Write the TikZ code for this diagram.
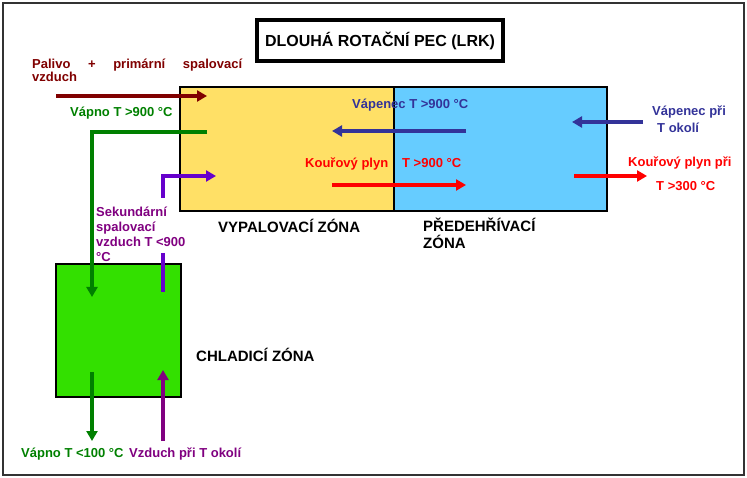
\documentclass[tikz,border=0pt]{standalone}
\usepackage{fontspec}
\setmainfont{Liberation Sans}
\usetikzlibrary{arrows.meta}
\definecolor{kyellow}{HTML}{FFE066}
\definecolor{kblue}{HTML}{66CCFF}
\definecolor{kgreen}{HTML}{33E000}
\definecolor{dred}{HTML}{800000}
\definecolor{dgreen}{HTML}{008000}
\definecolor{violet1}{HTML}{6600CC}
\definecolor{purp}{HTML}{800080}
\definecolor{nblue}{HTML}{333399}
\definecolor{bred}{HTML}{FF0000}
\begin{document}
\begin{tikzpicture}[x=1pt,y=-1pt,
  flow/.style={line width=3.2pt,-{Triangle[length=10pt,width=11pt]}},
  plainflow/.style={line width=3.2pt},
  zone/.style={draw=black,line width=1.5pt},
  lbl/.style={inner sep=0pt,anchor=base west,font=\fontsize{13}{15}\selectfont\bfseries},
  zlbl/.style={inner sep=0pt,anchor=base west,font=\fontsize{15}{17}\selectfont\bfseries}]
\useasboundingbox (0,0) rectangle (747,478);
% frame
\draw[line width=2pt,black!80] (3,3) rectangle (744,475);
% title
\node[draw=black,line width=4pt,minimum width=246pt,minimum height=41pt,inner sep=0pt,
  font=\fontsize{16}{18}\selectfont\bfseries] (title) at (380,40.5) {DLOUHÁ ROTAČNÍ PEC (LRK)};
% zones
\path[zone,fill=kyellow] (180,87) rectangle (394,211);
\path[zone,fill=kblue] (394,87) rectangle (607,211);
\path[zone,fill=kgreen] (56,264) rectangle (181,397);
% coordinates
\coordinate (a1) at (56,96);   \coordinate (a2) at (207,96);
\coordinate (g1) at (207,132); \coordinate (g2) at (92,132); \coordinate (g3) at (92,297);
\coordinate (p1) at (163,198); \coordinate (p2) at (163,176); \coordinate (p3) at (216,176);
\coordinate (q1) at (163,253); \coordinate (q2) at (163,292);
\coordinate (r1) at (163,441); \coordinate (r2) at (163,370);
\coordinate (h1) at (92,372);  \coordinate (h2) at (92,441);
\coordinate (b1) at (466,131); \coordinate (b2) at (332,131);
\coordinate (c1) at (643,122); \coordinate (c2) at (572,122);
\coordinate (k1) at (332,185); \coordinate (k2) at (466,185);
\coordinate (m1) at (574,176); \coordinate (m2) at (647,176);
% arrows
\draw[flow,dred] (a1) -- (a2);
\draw[flow,dgreen] (g1) -- (g2) -- (g3);
\draw[flow,violet1] (p1) -- (p2) -- (p3);
\draw[plainflow,violet1] (q1) -- (q2);
\draw[flow,purp] (r1) -- (r2);
\draw[flow,dgreen] (h1) -- (h2);
\draw[flow,nblue] (b1) -- (b2);
\draw[flow,nblue] (c1) -- (c2);
\draw[flow,bred] (k1) -- (k2);
\draw[flow,bred] (m1) -- (m2);
% labels
\node[lbl,dred] (t1) at (32,69) {\hbox to 210pt{Palivo\hfill+\hfill primární\hfill spalovací}};
\node[lbl,dred] (t1b) at (32,82) {vzduch};
\node[lbl,dgreen] (t2) at (70,117) {Vápno T >900 °C};
\node[lbl,nblue] (t3) at (352,109) {Vápenec T >900 °C};
\node[lbl,bred] (t4) at (305,168) {Kouřový plyn};
\node[lbl,bred] (t5) at (402,168) {T >900 °C};
\node[lbl,nblue] (t6) at (652,116) {Vápenec při};
\node[lbl,nblue] (t7) at (657,133) {T okolí};
\node[lbl,bred] (t8) at (628,167) {Kouřový plyn při};
\node[lbl,bred] (t9) at (656,191) {T >300 °C};
\node[lbl,purp] (t10a) at (96,217) {Sekundární};
\node[lbl,purp] (t10b) at (96,232) {spalovací};
\node[lbl,purp] (t10c) at (96,247) {vzduch T <900};
\node[lbl,purp] (t10d) at (96,262) {°C};
\node[lbl,dgreen] (t11) at (21,457) {Vápno T <100 °C};
\node[lbl,purp] (t12) at (129,457) {Vzduch při T okolí};
\node[zlbl] (z1) at (218,233) {VYPALOVACÍ ZÓNA};
\node[zlbl] (z2a) at (423,232) {PŘEDEHŘÍVACÍ};
\node[zlbl] (z2b) at (423,249) {ZÓNA};
\node[zlbl] (z3) at (196,361) {CHLADICÍ ZÓNA};
\end{tikzpicture}
\end{document}
